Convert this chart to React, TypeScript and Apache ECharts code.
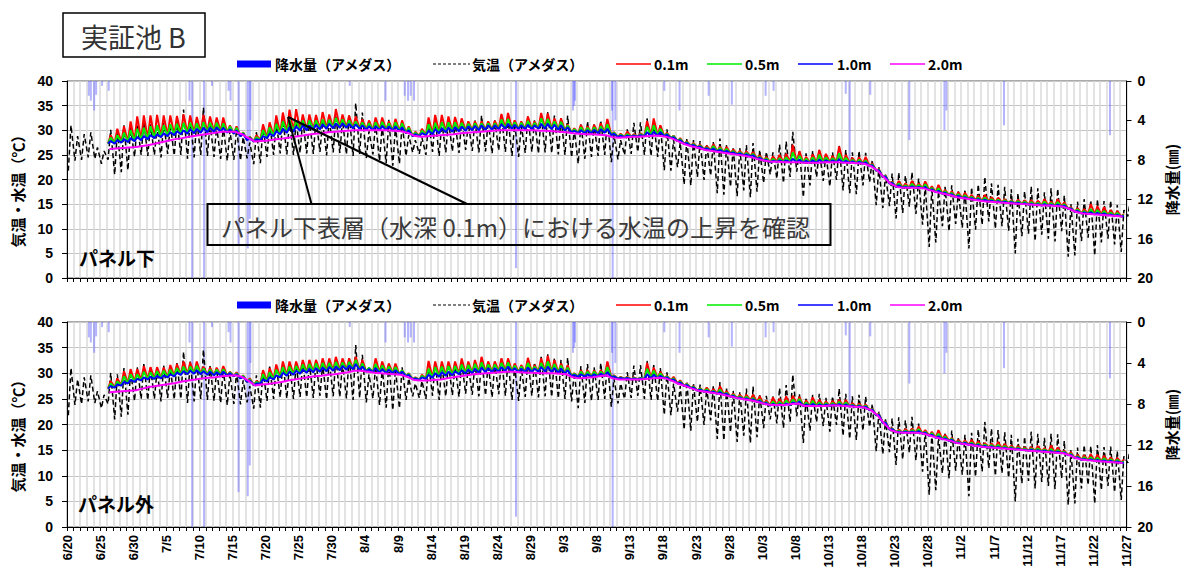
import React, { useEffect, useRef } from "react";
import * as echarts from "echarts";

// ---- x axis tick labels (every 5 days from 6/20) ----
const DATE_LABELS = [
  "6/20", "6/25", "6/30", "7/5", "7/10", "7/15", "7/20", "7/25", "7/30", "8/4", "8/9",
  "8/14", "8/19", "8/24", "8/29", "9/3", "9/8", "9/13", "9/18", "9/23", "9/28", "10/3",
  "10/8", "10/13", "10/18", "10/23", "10/28", "11/2", "11/7", "11/12", "11/17", "11/22", "11/27",
];

// ---- AMeDAS air temperature: daily minimum / maximum, day 0 = 6/20 ----
const AIR_MIN = [
  21.8, 23.8, 24.0, 24.5, 24.2, 23.2, 24.0, 21.0, 21.5, 21.9,
  24.6, 25.0, 24.8, 25.0, 24.5, 25.2, 24.9, 25.0, 24.2, 24.5,
  25.0, 24.8, 24.6, 24.2, 23.8, 24.0, 23.9, 24.3, 23.1, 23.3,
  24.6, 25.0, 25.3, 25.1, 25.0, 25.4, 25.3, 25.2, 25.6, 24.9,
  25.5, 25.4, 25.1, 24.8, 25.2, 24.3, 25.1, 23.8, 23.3, 22.8,
  23.2, 24.8, 25.5, 25.2, 25.0, 25.6, 24.8, 25.5, 25.7, 25.4,
  26.0, 25.8, 25.5, 25.7, 25.3, 25.9, 25.6, 24.8, 24.6, 25.4,
  25.6, 25.3, 25.5, 25.4, 25.1, 25.0, 24.5, 23.2, 24.2, 24.6,
  24.8, 25.0, 23.5, 24.1, 25.0, 25.2, 25.6, 25.0, 24.8, 24.6,
  21.9, 21.8, 22.5, 19.0, 18.8, 20.5, 19.9, 20.8, 17.2, 16.9,
  18.5, 16.6, 17.8, 16.4, 17.5, 19.3, 21.0, 20.2, 19.3, 20.5,
  21.6, 16.4, 18.8, 20.5, 19.7, 18.6, 19.9, 17.8, 17.2, 17.0,
  18.8, 19.5, 14.8, 14.2, 14.6, 12.1, 13.2, 14.5, 13.0, 10.8,
  6.3, 7.2, 10.5, 9.5, 11.0, 10.2, 6.0, 9.8, 10.8, 11.5,
  10.0, 10.5, 9.6, 5.0, 8.5, 9.0, 7.5, 8.8, 8.0, 7.4,
  9.5, 4.3, 4.6, 7.5, 8.2, 4.6, 7.2, 8.0, 6.8, 5.3,
  12.5,
];
const AIR_MAX = [
  31.0, 28.8, 29.2, 29.6, 26.5, 25.8, 30.1, 29.8, 31.0, 30.5,
  31.2, 31.8, 31.2, 30.6, 31.5, 31.0, 32.0, 34.2, 32.3, 31.9,
  34.6, 31.4, 30.8, 30.8, 29.9, 30.2, 28.6, 27.5, 29.6, 30.6,
  31.3, 31.6, 32.2, 31.9, 31.8, 32.2, 32.0, 32.3, 31.8, 32.4,
  33.1, 32.0, 33.2, 35.5, 33.6, 29.8, 31.4, 31.0, 32.1, 30.8,
  31.2, 29.0, 28.0, 28.5, 31.8, 32.2, 31.6, 32.0, 31.5, 32.2,
  31.4, 32.0, 33.0, 31.8, 32.0, 33.1, 32.5, 31.3, 31.0, 32.8,
  32.1, 33.2, 33.7, 33.0, 32.6, 33.0, 30.2, 31.4, 31.8, 31.2,
  32.0, 32.3, 29.0, 28.0, 30.2, 31.5, 31.6, 32.4, 31.6, 31.0,
  30.2, 28.0, 27.5, 28.4, 28.0, 27.8, 27.2, 27.6, 28.3, 27.0,
  26.6, 26.4, 27.0, 27.4, 26.0, 25.6, 25.5, 27.1, 27.7, 29.7,
  26.0, 25.3, 25.8, 26.0, 25.2, 25.5, 27.0, 26.0, 25.5, 25.8,
  25.4, 24.0, 22.5, 21.0, 21.2, 21.4, 20.8, 21.5, 20.2, 18.9,
  18.3, 17.6, 18.5, 18.8, 17.6, 18.0, 18.4, 19.0, 20.5, 19.2,
  18.9, 18.5, 18.0, 17.2, 17.6, 18.6, 18.2, 17.4, 18.2, 18.1,
  16.8, 15.0, 15.5, 16.0, 15.8, 16.0, 15.6, 15.7, 14.8, 13.8,
  16.0,
];

// ---- AMeDAS precipitation (mm): day offset from 6/20, amount ----
const PRECIP_DAY = [
  3.3, 3.6, 4.1, 4.4, 5.3, 6.3, 18.5, 18.9, 20.7, 21.9, 24.4, 24.7, 25.9, 27.3, 27.6, 27.7,
  42.7, 48.1, 51.0, 51.5, 51.9, 52.4, 67.8, 76.4, 76.6, 76.7, 82.3, 82.4, 82.8, 90.2, 92.5,
  96.9, 100.4, 105.5, 106.7, 117.6, 118.2, 121.3, 127.2, 132.5, 132.8, 141.5, 157.5,
];
const PRECIP_MM = [
  1.5, 2.0, 3.0, 1.4, 0.5, 1.0, 2.0, 20, 20, 0.5, 1.0, 2.0, 16.6, 17.0, 14.0, 4.0,
  0.5, 2.0, 1.5, 2.0, 1.5, 2.0, 19.0, 3.0, 2.5, 2.0, 3.0, 20, 4.0, 1.0, 3.0,
  1.5, 2.4, 1.5, 1.0, 1.3, 8.0, 1.4, 6.0, 5.0, 3.0, 4.5, 5.5,
];

// ---- water temperatures: first day index (6/26) ----
const WATER_START = 6;

// パネル下 (under the panel): night level, daily peaks per depth, 2.0m daily
const UNDER_NIGHT = [
  27.3, 27.3, 27.5, 27.6, 27.8, 28.0, 28.2, 28.4, 28.6, 28.8,
  29.0, 29.2, 29.3, 29.4, 29.5, 29.6, 29.7, 29.7, 29.5, 29.3,
  28.8, 28.0, 27.7, 28.0, 28.4, 28.8, 29.2, 29.5, 29.7, 29.9,
  30.0, 30.1, 30.2, 30.3, 30.4, 30.5, 30.5, 30.4, 30.3, 30.1,
  30.0, 30.0, 30.0, 29.9, 29.8, 29.4, 28.8, 28.8, 29.0, 29.2,
  29.4, 29.6, 29.7, 29.8, 29.9, 30.0, 30.0, 30.1, 30.1, 30.2,
  30.3, 30.3, 30.2, 30.2, 30.2, 30.3, 30.3, 30.2, 30.1, 29.9,
  29.5, 29.4, 29.4, 29.4, 29.4, 29.5, 29.0, 28.6, 28.6, 28.7,
  28.7, 28.8, 28.9, 28.9, 28.8, 28.4, 27.8, 27.2, 26.8, 26.5,
  26.1, 25.9, 25.7, 25.5, 25.3, 25.1, 24.9, 24.7, 24.2, 23.8,
  23.5, 23.6, 23.5, 23.5, 23.5, 23.4, 23.4, 23.4, 23.4, 23.5,
  23.5, 23.4, 23.4, 23.3, 23.2, 22.7, 21.8, 20.5, 19.2, 18.5,
  18.3, 18.3, 18.3, 18.2, 17.8, 17.4, 17.1, 16.8, 16.4, 16.2,
  16.0, 15.8, 15.6, 15.5, 15.4, 15.3, 15.2, 15.1, 15.0, 14.9,
  14.8, 14.7, 14.7, 14.6, 14.5, 14.0, 13.4, 13.1, 13.0, 12.9,
  12.8, 12.7, 12.6, 12.5,
];
const UNDER_010 = [
  29.0, 30.3, 30.8, 31.8, 32.8, 33.0, 33.0, 33.1, 33.0, 33.0,
  32.9, 33.2, 33.0, 32.7, 33.1, 32.8, 32.6, 32.6, 31.0, 30.8,
  29.6, 28.7, 29.0, 31.2, 31.6, 33.0, 33.6, 34.2, 34.3, 33.2,
  33.2, 33.1, 33.7, 33.2, 34.3, 33.2, 33.0, 32.8, 32.2, 32.0,
  32.6, 32.6, 31.8, 32.3, 32.0, 30.8, 29.7, 30.3, 32.6, 33.1,
  33.1, 32.8, 32.7, 32.4, 31.8, 31.8, 31.8, 31.8, 31.9, 33.3,
  33.5, 32.0, 31.8, 32.8, 31.8, 33.5, 33.4, 32.4, 32.4, 31.2,
  30.4, 31.1, 30.8, 31.1, 31.4, 32.3, 29.6, 29.3, 29.7, 29.2,
  29.4, 31.9, 32.4, 31.0, 29.5, 28.9, 28.4, 27.8, 27.4, 27.1,
  26.8, 27.2, 26.7, 26.6, 26.1, 25.8, 25.7, 25.6, 24.9, 24.6,
  24.7, 25.0, 25.2, 27.0, 25.7, 24.6, 25.1, 26.0, 25.2, 24.8,
  26.7, 25.0, 24.4, 24.5, 24.6, 23.3, 22.1, 20.8, 19.5, 19.7,
  19.2, 19.7, 19.2, 19.6, 18.6, 18.9, 17.9, 17.6, 17.4, 17.3,
  16.9, 16.7, 16.9, 16.4, 16.3, 16.0, 15.8, 15.9, 15.8, 15.8,
  15.7, 16.0, 15.5, 16.0, 15.4, 14.4, 14.2, 14.0, 15.0, 14.6,
  14.4, 13.8, 13.6, 13.0,
];
const UNDER_050 = [
  28.5, 29.0, 29.5, 30.0, 30.3, 30.5, 30.8, 31.0, 31.0, 31.2,
  31.3, 31.5, 31.5, 31.4, 31.6, 31.5, 31.5, 31.4, 30.8, 30.5,
  29.5, 28.6, 28.6, 30.0, 30.6, 31.3, 31.8, 32.0, 32.0, 32.0,
  32.0, 32.0, 32.2, 32.1, 32.5, 32.2, 32.0, 31.8, 31.6, 31.4,
  31.6, 31.7, 31.4, 31.6, 31.4, 30.5, 29.5, 29.9, 31.2, 31.5,
  31.6, 31.6, 31.6, 31.5, 31.3, 31.4, 31.4, 31.4, 31.4, 32.2,
  32.3, 31.6, 31.5, 31.9, 31.5, 32.4, 32.3, 31.8, 31.7, 31.0,
  30.2, 30.6, 30.5, 30.6, 30.8, 31.2, 29.5, 29.1, 29.2, 29.0,
  29.2, 30.7, 31.0, 30.3, 29.3, 28.8, 28.2, 27.6, 27.2, 26.9,
  26.5, 26.8, 26.4, 26.2, 25.8, 25.5, 25.4, 25.2, 24.6, 24.3,
  24.2, 24.3, 24.5, 25.5, 24.8, 24.2, 24.5, 25.0, 24.5, 24.3,
  25.3, 24.4, 24.0, 24.0, 23.9, 23.1, 22.0, 20.7, 19.4, 19.2,
  18.8, 19.1, 18.9, 19.0, 18.3, 18.2, 17.6, 17.3, 17.0, 16.8,
  16.5, 16.3, 16.3, 16.0, 15.9, 15.8, 15.6, 15.6, 15.5, 15.4,
  15.3, 15.5, 15.2, 15.4, 15.0, 14.2, 13.9, 13.6, 14.0, 13.8,
  13.6, 13.3, 13.2, 12.8,
];
const UNDER_100 = [
  27.8, 28.0, 28.2, 28.4, 28.6, 28.8, 29.0, 29.2, 29.4, 29.6,
  29.8, 30.0, 30.2, 30.3, 30.5, 30.5, 30.6, 30.5, 30.2, 30.0,
  29.3, 28.4, 28.2, 28.8, 29.3, 29.8, 30.3, 30.6, 30.8, 31.0,
  31.0, 31.1, 31.2, 31.3, 31.4, 31.4, 31.3, 31.2, 31.0, 30.8,
  30.8, 30.9, 30.8, 30.8, 30.6, 30.0, 29.2, 29.4, 29.9, 30.2,
  30.4, 30.5, 30.6, 30.7, 30.8, 30.9, 31.0, 31.0, 31.0, 31.2,
  31.3, 31.1, 31.0, 31.1, 31.0, 31.3, 31.3, 31.1, 31.0, 30.6,
  29.9, 30.0, 30.0, 30.1, 30.2, 30.3, 29.3, 28.9, 28.9, 28.9,
  29.0, 29.6, 29.7, 29.6, 29.1, 28.6, 28.0, 27.4, 27.0, 26.7,
  26.3, 26.3, 26.0, 25.8, 25.5, 25.3, 25.1, 24.9, 24.4, 24.0,
  23.8, 23.9, 23.9, 24.2, 24.0, 23.8, 23.9, 24.0, 23.9, 23.9,
  24.1, 23.8, 23.7, 23.6, 23.5, 22.9, 21.9, 20.6, 19.3, 18.8,
  18.5, 18.6, 18.5, 18.5, 18.0, 17.7, 17.3, 17.0, 16.7, 16.4,
  16.2, 16.0, 15.9, 15.7, 15.6, 15.5, 15.4, 15.3, 15.2, 15.1,
  15.0, 15.0, 14.9, 14.9, 14.7, 14.1, 13.6, 13.3, 13.3, 13.2,
  13.1, 12.9, 12.8, 12.6,
];
const UNDER_200 = [
  26.2, 26.3, 26.4, 26.5, 26.6, 26.8, 27.0, 27.3, 27.6, 27.9,
  28.2, 28.4, 28.7, 28.9, 29.1, 29.3, 29.5, 29.7, 29.7, 29.7,
  29.2, 28.4, 27.7, 27.8, 27.9, 28.1, 28.3, 28.5, 28.7, 28.9,
  29.1, 29.3, 29.4, 29.6, 29.7, 29.8, 29.9, 30.0, 30.0, 30.0,
  30.0, 30.0, 30.0, 29.9, 29.8, 29.5, 28.9, 28.7, 28.8, 28.9,
  29.0, 29.1, 29.2, 29.4, 29.5, 29.6, 29.7, 29.8, 29.9, 30.0,
  30.0, 30.0, 30.0, 30.0, 30.0, 29.9, 29.9, 29.8, 29.7, 29.6,
  29.4, 29.3, 29.2, 29.2, 29.1, 29.0, 28.6, 28.5, 28.6, 28.7,
  28.7, 28.8, 28.9, 28.9, 28.7, 28.3, 27.7, 27.1, 26.7, 26.4,
  26.0, 25.8, 25.6, 25.4, 25.2, 25.0, 24.8, 24.5, 24.1, 23.8,
  23.6, 23.6, 23.5, 23.5, 23.5, 23.4, 23.4, 23.4, 23.5, 23.5,
  23.5, 23.4, 23.4, 23.3, 23.2, 22.7, 21.8, 20.4, 19.1, 18.5,
  18.3, 18.3, 18.3, 18.2, 17.8, 17.4, 17.1, 16.8, 16.4, 16.2,
  16.0, 15.8, 15.6, 15.5, 15.4, 15.3, 15.2, 15.1, 15.0, 14.9,
  14.8, 14.7, 14.7, 14.6, 14.5, 14.0, 13.4, 13.1, 13.0, 12.9,
  12.8, 12.7, 12.6, 12.5,
];

// パネル外 (outside the panel)
const OUTSIDE_NIGHT = [
  27.0, 27.2, 27.6, 28.0, 28.3, 28.6, 28.8, 28.9, 29.0, 29.2,
  29.4, 29.7, 29.8, 29.9, 29.8, 29.7, 29.6, 29.6, 29.5, 29.4,
  29.0, 28.3, 27.7, 28.0, 28.4, 28.8, 29.2, 29.5, 29.7, 29.9,
  30.1, 30.2, 30.3, 30.4, 30.5, 30.6, 30.7, 30.8, 30.6, 30.3,
  30.2, 30.1, 30.0, 30.0, 29.8, 29.4, 28.8, 28.7, 28.9, 29.1,
  29.3, 29.5, 29.6, 29.8, 29.9, 30.0, 30.1, 30.2, 30.2, 30.3,
  30.4, 30.3, 30.2, 30.2, 30.2, 30.3, 30.3, 30.2, 30.1, 29.9,
  29.4, 29.3, 29.3, 29.3, 29.4, 29.5, 29.2, 28.9, 28.9, 28.8,
  28.8, 28.9, 29.0, 29.0, 29.0, 28.6, 28.0, 27.5, 27.1, 26.6,
  26.4, 26.2, 26.0, 25.8, 25.4, 25.1, 24.9, 24.7, 24.4, 24.0,
  23.7, 23.7, 23.7, 23.8, 24.0, 23.6, 23.6, 23.6, 23.6, 23.6,
  23.7, 23.6, 23.5, 23.4, 23.3, 22.8, 21.8, 20.3, 19.0, 18.5,
  18.4, 18.4, 18.4, 18.2, 17.8, 17.4, 17.1, 16.8, 16.4, 16.2,
  16.0, 15.8, 15.6, 15.5, 15.4, 15.3, 15.2, 15.1, 15.0, 14.9,
  14.8, 14.7, 14.6, 14.5, 14.4, 14.0, 13.4, 13.1, 13.0, 12.9,
  12.8, 12.7, 12.6, 12.5,
];
const OUTSIDE_010 = [
  28.5, 29.0, 30.4, 30.8, 30.8, 31.4, 31.2, 31.2, 31.1, 31.6,
  31.8, 32.3, 32.1, 32.3, 31.3, 31.1, 31.1, 31.4, 30.3, 30.2,
  29.6, 29.0, 28.5, 30.6, 31.0, 31.7, 32.3, 32.3, 32.3, 32.6,
  32.6, 32.6, 32.9, 32.9, 33.2, 32.9, 32.9, 33.2, 32.6, 31.0,
  32.9, 32.3, 31.9, 31.9, 30.6, 30.0, 29.2, 29.7, 32.4, 32.3,
  32.3, 32.3, 32.3, 32.9, 32.3, 32.6, 33.2, 32.3, 32.3, 32.9,
  32.9, 31.9, 31.6, 33.0, 31.6, 32.9, 33.4, 32.6, 31.9, 31.6,
  30.0, 30.6, 30.6, 30.5, 30.6, 32.3, 29.6, 29.3, 29.3, 29.2,
  29.1, 32.0, 31.1, 30.3, 29.5, 29.3, 28.6, 28.0, 27.5, 27.1,
  27.2, 26.9, 27.5, 26.5, 26.0, 25.8, 25.8, 25.8, 25.5, 24.7,
  25.3, 25.0, 25.5, 25.6, 25.4, 24.7, 25.3, 24.8, 24.5, 24.6,
  24.8, 24.8, 24.2, 24.1, 23.9, 23.1, 22.1, 20.6, 19.3, 19.0,
  19.1, 19.2, 19.6, 18.9, 18.6, 18.9, 18.0, 17.4, 17.0, 16.9,
  17.0, 16.7, 16.4, 16.3, 16.6, 16.2, 15.9, 15.8, 15.5, 15.6,
  15.8, 15.4, 15.9, 15.5, 14.9, 14.6, 14.1, 14.0, 14.2, 14.1,
  13.9, 13.6, 13.5, 13.2,
];
const OUTSIDE_050 = [
  28.0, 28.4, 29.4, 29.8, 29.8, 30.3, 30.2, 30.4, 30.5, 30.7,
  31.0, 31.3, 31.3, 31.5, 30.9, 30.7, 30.7, 30.8, 30.2, 30.0,
  29.5, 28.8, 28.3, 29.8, 30.2, 30.7, 31.2, 31.3, 31.4, 31.7,
  31.8, 31.9, 32.0, 32.0, 32.2, 32.1, 32.2, 32.6, 31.9, 31.1,
  31.8, 31.5, 31.3, 31.2, 30.6, 29.9, 29.1, 29.5, 30.9, 31.2,
  31.3, 31.4, 31.4, 31.7, 31.6, 31.8, 32.1, 31.7, 31.7, 32.0,
  32.1, 31.5, 31.3, 32.0, 31.3, 32.0, 32.3, 31.8, 31.5, 31.1,
  29.9, 30.3, 30.3, 30.3, 30.3, 31.2, 29.5, 29.2, 29.2, 29.1,
  29.1, 30.9, 30.5, 30.0, 29.4, 29.0, 28.4, 27.9, 27.4, 27.0,
  26.9, 26.6, 26.8, 26.2, 25.8, 25.5, 25.4, 25.2, 24.9, 24.4,
  24.5, 24.4, 24.7, 24.9, 25.0, 24.3, 24.6, 24.3, 24.2, 24.2,
  24.4, 24.3, 23.9, 23.8, 23.7, 23.0, 22.0, 20.5, 19.2, 18.8,
  18.8, 18.9, 19.1, 18.6, 18.3, 18.2, 17.6, 17.2, 16.7, 16.6,
  16.5, 16.3, 16.1, 16.0, 16.0, 15.8, 15.6, 15.5, 15.3, 15.3,
  15.3, 15.1, 15.2, 15.0, 14.7, 14.3, 13.8, 13.6, 13.6, 13.5,
  13.4, 13.2, 13.1, 12.8,
];
const OUTSIDE_100 = [
  27.5, 27.8, 28.3, 28.7, 28.9, 29.2, 29.3, 29.5, 29.6, 29.8,
  30.1, 30.4, 30.5, 30.6, 30.4, 30.3, 30.2, 30.3, 30.0, 29.8,
  29.3, 28.6, 28.0, 28.8, 29.2, 29.6, 30.1, 30.3, 30.5, 30.7,
  30.9, 31.0, 31.1, 31.2, 31.3, 31.4, 31.5, 31.8, 31.3, 30.8,
  31.0, 30.8, 30.7, 30.6, 30.3, 29.7, 29.0, 29.2, 29.7, 30.0,
  30.2, 30.3, 30.4, 30.6, 30.7, 30.9, 31.1, 31.0, 31.0, 31.2,
  31.3, 31.0, 30.9, 31.1, 30.9, 31.2, 31.3, 31.0, 30.9, 30.6,
  29.7, 29.8, 29.8, 29.8, 29.9, 30.2, 29.4, 29.1, 29.1, 29.0,
  29.0, 29.8, 29.7, 29.5, 29.2, 28.8, 28.2, 27.7, 27.2, 26.8,
  26.6, 26.4, 26.3, 26.0, 25.6, 25.3, 25.1, 24.9, 24.6, 24.2,
  24.0, 24.0, 24.1, 24.3, 24.5, 23.9, 24.0, 23.9, 23.9, 23.9,
  24.0, 23.9, 23.7, 23.6, 23.5, 22.9, 21.9, 20.4, 19.1, 18.6,
  18.6, 18.6, 18.7, 18.4, 18.0, 17.7, 17.3, 17.0, 16.5, 16.4,
  16.2, 16.0, 15.8, 15.7, 15.6, 15.5, 15.4, 15.3, 15.1, 15.1,
  15.0, 14.9, 14.8, 14.7, 14.5, 14.1, 13.6, 13.3, 13.2, 13.1,
  13.0, 12.9, 12.8, 12.6,
];
const OUTSIDE_200 = [
  26.3, 26.4, 26.5, 26.6, 26.7, 27.0, 27.3, 27.5, 27.7, 27.9,
  28.1, 28.4, 28.6, 28.8, 29.0, 29.1, 29.2, 29.4, 29.5, 29.6,
  29.3, 28.5, 27.6, 27.8, 27.9, 28.1, 28.3, 28.6, 28.8, 29.0,
  29.2, 29.4, 29.5, 29.7, 29.8, 30.0, 30.2, 30.5, 30.5, 30.3,
  30.1, 30.0, 29.9, 29.8, 29.7, 29.3, 28.7, 28.6, 28.6, 28.7,
  28.8, 29.0, 29.2, 29.4, 29.6, 29.8, 29.9, 30.0, 30.1, 30.2,
  30.3, 30.3, 30.2, 30.1, 30.1, 30.0, 30.0, 30.0, 29.9, 29.8,
  29.2, 29.0, 29.1, 29.2, 29.4, 29.6, 29.0, 28.8, 28.8, 28.8,
  28.8, 28.9, 29.0, 29.1, 29.0, 28.5, 27.9, 27.5, 27.0, 26.6,
  26.4, 26.2, 26.0, 25.7, 25.4, 25.1, 24.9, 24.7, 24.4, 24.0,
  23.8, 23.8, 23.8, 24.0, 24.1, 23.6, 23.6, 23.6, 23.6, 23.7,
  23.7, 23.6, 23.5, 23.4, 23.3, 22.8, 21.8, 20.2, 18.9, 18.5,
  18.4, 18.4, 18.4, 18.2, 17.8, 17.4, 17.1, 16.8, 16.4, 16.2,
  16.0, 15.8, 15.6, 15.5, 15.4, 15.3, 15.2, 15.1, 15.0, 14.9,
  14.8, 14.7, 14.6, 14.5, 14.4, 14.0, 13.4, 13.1, 13.0, 12.9,
  12.8, 12.7, 12.6, 12.5,
];

const CJK = '"Noto Sans CJK JP", "Noto Sans", sans-serif';
const NUM = '"Liberation Sans", Arial, sans-serif';

const SERIES_NAMES = ["降水量（アメダス）", "気温（アメダス）", "0.1m", "0.5m", "1.0m", "2.0m"];
const SERIES_COLORS = ["#0000ff", "#000000", "#ff0000", "#00ee00", "#0000ff", "#ff00ff"];

function dailyPairs(nights: number[], peaks: number[]) {
  const out: number[][] = [];
  nights.forEach((n, i) => {
    const d = WATER_START + i;
    out.push([d + 0.2, n], [d + 0.6, peaks[i]]);
  });
  return out;
}

function panelSeries(gi: number, night: number[], w010: number[], w050: number[], w100: number[], w200: number[]) {
  const xi = gi;
  const yl = gi * 2;
  const yr = gi * 2 + 1;
  const air: number[][] = [];
  AIR_MIN.forEach((mn, i) => {
    air.push([i + 0.2, mn], [i + 0.6, AIR_MAX[i]]);
  });
  const line = (name: string, data: number[][], color: string, width: number, z: number, dash?: number[]) => ({
    name,
    type: "line",
    xAxisIndex: xi,
    yAxisIndex: yl,
    data,
    showSymbol: false,
    symbol: "none",
    z,
    lineStyle: { color, width, type: dash ?? "solid" },
  });
  return [
    {
      name: SERIES_NAMES[0],
      type: "bar",
      xAxisIndex: xi,
      yAxisIndex: yr,
      data: PRECIP_DAY.map((d, i) => [d, PRECIP_MM[i]]),
      barWidth: 2,
      itemStyle: { color: "rgba(90,90,255,0.45)" },
      z: 1,
    },
    line(SERIES_NAMES[1], air, "#000", 1.5, 2, [5, 3]),
    line(SERIES_NAMES[2], dailyPairs(night, w010), SERIES_COLORS[2], 2, 3),
    line(SERIES_NAMES[3], dailyPairs(night, w050), SERIES_COLORS[3], 2, 4),
    line(SERIES_NAMES[4], dailyPairs(night, w100), SERIES_COLORS[4], 2, 5),
    line(SERIES_NAMES[5], w200.map((v, i) => [WATER_START + i + 0.4, v]), SERIES_COLORS[5], 2, 6),
  ];
}

function legendGraphics(cy: number) {
  const els: any[] = [];
  els.push({ type: "rect", z: 100, shape: { x: 237, y: cy - 3.5, width: 34, height: 7 }, style: { fill: "#0000ff" } });
  els.push({ type: "line", z: 100, shape: { x1: 433, y1: cy, x2: 470, y2: cy }, style: { stroke: "#000", lineWidth: 1, lineDash: [3, 2] } });
  const lx = [616, 707, 798, 890];
  lx.forEach((x, i) => {
    els.push({ type: "line", z: 100, shape: { x1: x, y1: cy, x2: x + 35, y2: cy }, style: { stroke: SERIES_COLORS[i + 2], lineWidth: 1.5 } });
  });
  const tx = [275, 472, 654, 745, 837, 928];
  tx.forEach((x, i) => {
    els.push({
      type: "text", z: 100, x, y: cy,
      style: { text: SERIES_NAMES[i], font: `bold 14px ${CJK}`, fill: "#000", verticalAlign: "middle" },
    });
  });
  return els;
}

export default function App() {
  const ref = useRef<HTMLDivElement>(null);
  useEffect(() => {
    if (!ref.current) return;
    const chart = echarts.init(ref.current, undefined, { renderer: "svg" });
    const grids = [
      { left: 67, top: 81, width: 1070, height: 197 },
      { left: 67, top: 322, width: 1070, height: 205 },
    ];
    const xAxis = grids.map((_, i) => ({
      type: "value",
      gridIndex: i,
      min: 0,
      max: 160,
      interval: 5,
      axisLine: { show: true, onZero: false, lineStyle: { color: "#000", width: 1 } },
      axisTick: { show: true, length: 4, lineStyle: { color: "#000" } },
      minorTick: { show: true, splitNumber: 5, length: 4, lineStyle: { color: "#000" } },
      splitLine: { show: true, lineStyle: { color: "#dadada", width: 1.5 } },
      minorSplitLine: { show: true, lineStyle: { color: "#dadada", width: 1.5 } },
      axisLabel: {
        show: i === 1,
        rotate: 90,
        margin: 8,
        color: "#000",
        fontWeight: "bold",
        fontSize: 13,
        fontFamily: NUM,
        formatter: (v: number) => DATE_LABELS[Math.round(v / 5)] ?? "",
      },
    }));
    const yAxis: any[] = [];
    grids.forEach((_, i) => {
      yAxis.push({
        type: "value",
        gridIndex: i,
        position: "left",
        min: 0,
        max: 40,
        interval: 5,
        name: "気温・水温（℃）",
        nameLocation: "middle",
        nameRotate: 90,
        nameGap: 42,
        nameTextStyle: { fontFamily: CJK, fontWeight: "bold", fontSize: 15, color: "#000", padding: [0, 16, 0, 0] },
        axisLine: { show: true, lineStyle: { color: "#000" } },
        axisTick: { show: true, length: 5, lineStyle: { color: "#000" } },
        splitLine: { show: true, lineStyle: { color: "#c4c4c4", width: 1 } },
        axisLabel: { color: "#000", fontWeight: "bold", fontSize: 14, fontFamily: NUM, margin: 14 },
      });
      yAxis.push({
        type: "value",
        gridIndex: i,
        position: "right",
        min: 0,
        max: 20,
        interval: 4,
        inverse: true,
        name: "降水量(㎜)",
        nameLocation: "middle",
        nameRotate: 90,
        nameGap: 35,
        nameTextStyle: { fontFamily: CJK, fontWeight: "bold", fontSize: 15, color: "#000" },
        axisLine: { show: true, lineStyle: { color: "#000" } },
        axisTick: { show: true, length: 5, lineStyle: { color: "#000" } },
        splitLine: { show: false },
        axisLabel: { color: "#000", fontWeight: "bold", fontSize: 14, fontFamily: NUM, margin: 11 },
      });
    });

    const graphic: any[] = [
      { type: "rect", z: 100, shape: { x: 63, y: 13, width: 142, height: 44 }, style: { fill: "#fff", stroke: "#000", lineWidth: 1.5 } },
      { type: "text", z: 101, x: 81, y: 36, style: { text: "実証池 B", font: `27px ${CJK}`, fill: "#333", verticalAlign: "middle" } },
      ...legendGraphics(64),
      ...legendGraphics(305),
      { type: "text", z: 100, x: 79, y: 257, style: { text: "パネル下", font: `bold 19px ${CJK}`, fill: "#000", verticalAlign: "middle" } },
      { type: "text", z: 100, x: 78, y: 503, style: { text: "パネル外", font: `bold 19px ${CJK}`, fill: "#000", verticalAlign: "middle" } },
      { type: "rect", z: 100, shape: { x: 207.5, y: 204, width: 623, height: 41 }, style: { fill: "none", stroke: "#000", lineWidth: 2 } },
      { type: "line", z: 100, shape: { x1: 288, y1: 117, x2: 311.5, y2: 204 }, style: { stroke: "#000", lineWidth: 2 } },
      { type: "line", z: 100, shape: { x1: 288, y1: 117, x2: 467, y2: 204 }, style: { stroke: "#000", lineWidth: 2 } },
      {
        type: "text", z: 101, x: 221, y: 226,
        style: { text: "パネル下表層（水深 0.1m）における水温の上昇を確認", font: `24px ${CJK}`, fill: "#3a3a3a", verticalAlign: "middle" },
      },
    ];

    chart.setOption({
      animation: false,
      backgroundColor: "#fff",
      grid: grids.map((g) => ({ ...g, show: true, borderColor: "#555", borderWidth: 1, backgroundColor: "transparent" })),
      xAxis,
      yAxis,
      series: [
        ...panelSeries(0, UNDER_NIGHT, UNDER_010, UNDER_050, UNDER_100, UNDER_200),
        ...panelSeries(1, OUTSIDE_NIGHT, OUTSIDE_010, OUTSIDE_050, OUTSIDE_100, OUTSIDE_200),
      ],
      graphic,
    });
    return () => chart.dispose();
  }, []);
  return <div ref={ref} style={{ position: "fixed", left: 0, top: 0, width: 1187, height: 571, background: "#fff" }} />;
}
